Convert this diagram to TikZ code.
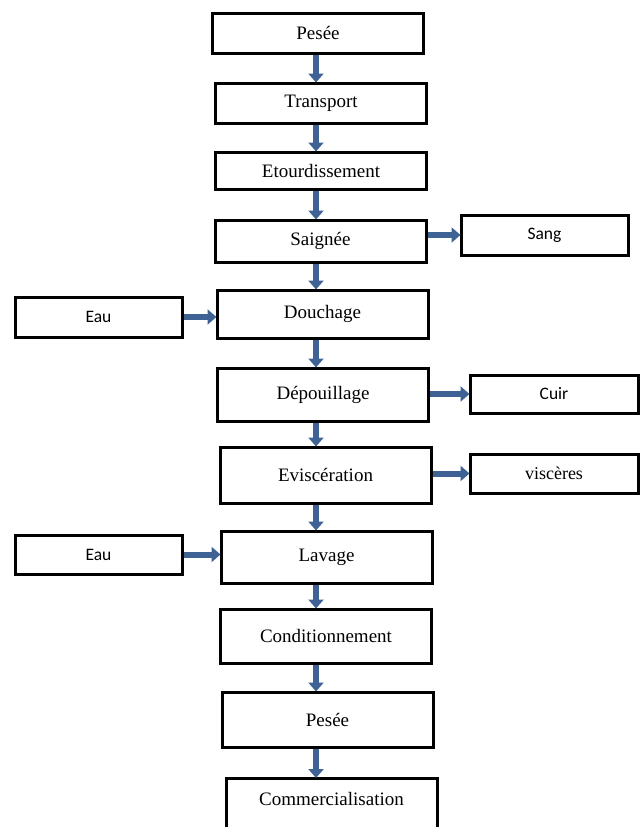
\documentclass[tikz,border=0pt]{standalone}
\usepackage{fontspec}
\setmainfont{Liberation Serif}
\newfontfamily\calibri{Carlito}
\usetikzlibrary{arrows.meta}
\definecolor{flowblue}{RGB}{62,98,148}
\tikzset{
  stage/.style={draw,line width=3pt,inner sep=0pt,minimum width=211,minimum height=#1,
    font=\fontsize{19}{21}\selectfont},
  stage/.default=42,
  side/.style={draw,line width=3pt,inner sep=0pt,minimum width=167,minimum height=40,
    font=\calibri\fontsize{17.5}{19}\selectfont},
  flow/.style={flowblue,line width=6pt,-{Triangle[length=9pt,width=15pt]},shorten >=-1pt}
}
\begin{document}
\begin{tikzpicture}[x=1pt,y=-1pt]
  \useasboundingbox (0,0) rectangle (640,827);
  \coordinate (axis) at (316,0);
  % main line
  \node[stage=40] (pesee) at (318,33) {Pesée};
  \node[stage=40] (transport) at (321,103) {Transport};
  \node[stage=37] (etourd) at (321,170.5) {Etourdissement};
  \node[stage=42] (saignee) at (320.5,241) {Saignée};
  \node[stage=48] (douchage) at (322.5,314) {Douchage};
  \node[stage=53] (depouillage) at (323,394.5) {Dépouillage};
  \node[stage=56] (evisceration) at (325.5,475) {Eviscération};
  \node[stage=52] (lavage) at (326.5,557) {Lavage};
  \node[stage=54] (condit) at (326,636) {Conditionnement};
  \node[stage=55] (pesee2) at (327.5,719.5) {Pesée};
  \node[stage=70,anchor=north,text depth=30pt] (commerce) at (331.5,777) {Commercialisation};
  % inputs and outputs
  \node[side] (sang) at (544.5,235) {Sang};
  \node[side] (eau1) at (98.5,317) {Eau};
  \node[side,minimum width=168,minimum height=38] (cuir) at (554,394) {Cuir};
  \node[side,minimum width=168,minimum height=39,font=\fontsize{18}{20}\selectfont] (visceres) at (554,473.5) {viscères};
  \node[side,minimum height=39] (eau2) at (98.5,554.5) {Eau};
  \foreach \from/\to in {pesee/transport,transport/etourd,etourd/saignee,saignee/douchage,
    douchage/depouillage,depouillage/evisceration,evisceration/lavage,lavage/condit,
    condit/pesee2,pesee2/commerce}
    \draw[flow] (\from.south -| axis) -- (\to.north -| axis);
  \foreach \from/\to in {saignee/sang,depouillage/cuir,evisceration/visceres}
    \draw[flow] (\from.east |- \to) -- (\to.west);
  \foreach \from/\to in {eau1/douchage,eau2/lavage}
    \draw[flow] (\from.east) -- (\to.west |- \from);
\end{tikzpicture}
\end{document}
